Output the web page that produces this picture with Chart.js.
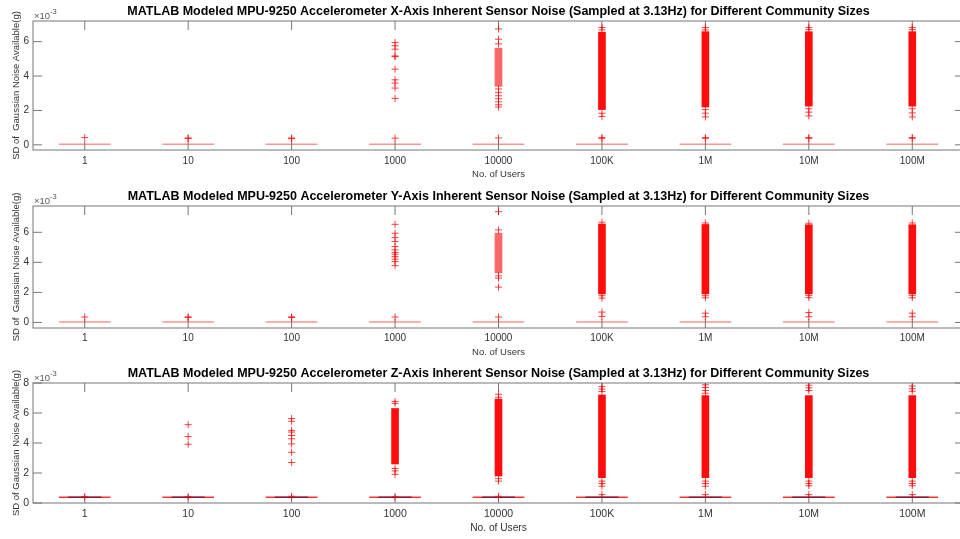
<!DOCTYPE html>
<html>
<head>
<meta charset="utf-8">
<script src="https://cdn.jsdelivr.net/npm/chart.js@4/dist/chart.umd.min.js"></script>
<style>
html,body{margin:0;padding:0;background:#fff;overflow:hidden;width:960px;height:539px}
.panel{position:absolute;left:0}
</style>
</head>
<body>
<div class="panel" style="top:0"><canvas id="cx" width="975" height="180"></canvas></div>
<div class="panel" style="top:185px"><canvas id="cy" width="975" height="173"></canvas></div>
<div class="panel" style="top:362px"><canvas id="cz" width="975" height="172"></canvas></div>
<script>
// all values in units of 1e-3 g (axis shows x10^-3)
const userCounts = ['1','10','100','1000','10000','100K','1M','10M','100M'];

// X axis
const xMedians = [0.03,0.03,0.03,0.03,0.03,0.03,0.03,0.03,0.03];
const xOutliers = [
  [0.42],
  [0.40,0.37],
  [0.40,0.36],
  [5.95,5.76,5.56,5.17,5.13,4.40,3.78,3.59,3.30,2.70,0.39],
  [6.74,6.14,5.87,3.25,3.05,2.85,2.68,2.50,2.33,2.20,0.40],
  [6.82,6.68,1.84,1.65,0.42,0.38],
  [6.82,6.68,2.05,1.84,1.62,0.42,0.38],
  [6.82,6.70,2.10,1.90,1.68,0.42,0.38],
  [6.82,6.70,2.10,1.86,1.62,0.42,0.38]
];
const xBands = [null,null,null,null,[3.4,5.62],[2.05,6.55],[2.2,6.58],[2.25,6.58],[2.25,6.58]];

// Y axis
const yMedians = [0.03,0.03,0.03,0.03,0.03,0.03,0.03,0.03,0.03];
const yOutliers = [
  [0.36],
  [0.37,0.33],
  [0.37,0.33],
  [6.53,5.94,5.65,5.38,5.05,4.83,4.65,4.54,4.38,4.21,4.05,3.78,0.36],
  [7.37,6.16,3.10,2.95,2.35,0.36],
  [6.67,1.78,1.62,0.69,0.40],
  [6.62,1.78,1.64,0.62,0.38],
  [6.60,1.80,1.65,0.66,0.38],
  [6.62,1.80,1.64,0.62,0.38]
];
const yBands = [null,null,null,null,[3.3,5.94],[1.9,6.55],[1.9,6.52],[1.9,6.5],[1.9,6.5]];

// Z axis
const zMedians = [0.38,0.38,0.38,0.38,0.38,0.38,0.38,0.38,0.38];
const zWhiskerEnds = [0.38,0.38,0.38,0.38,0.38,0.38,0.38,0.38,0.38];
const zOutliers = [
  [0.42],
  [5.22,4.43,3.92,0.42],
  [5.63,5.45,4.84,4.73,4.50,4.28,3.94,3.38,2.70,0.45],
  [6.76,6.64,2.30,2.14,1.91,0.42],
  [7.25,7.05,1.62,1.46,0.45],
  [7.77,7.60,7.43,1.46,1.30,1.12,0.56],
  [7.88,7.70,7.50,7.32,1.46,1.30,1.12,0.56],
  [7.85,7.68,7.50,1.46,1.30,1.15,0.56],
  [7.80,7.62,7.45,1.46,1.30,1.15,0.56]
];
const zBands = [null,null,null,[2.6,6.3],[1.8,6.93],[1.69,7.2],[1.69,7.16],[1.69,7.16],[1.69,7.16]];

const yTicksXY = [0,2,4,6];
const yTicksZ = [0,2,4,6,8];

const FONT = '"Liberation Sans", Arial, Helvetica, sans-serif';
const boxHalf = 0.25, capHalf = 0.16;

function segs(vals, half){
  const pts = [];
  vals.forEach((v,i)=>{ pts.push({x:i+1-half,y:v},{x:i+1+half,y:v},{x:i+1+half+0.01,y:null}); });
  return pts;
}
function outlierPts(groups){
  const pts = [];
  groups.forEach((g,i)=>g.forEach(v=>pts.push({x:i+1,y:v})));
  return pts;
}

const matlabAxes = {
  id:'matlabAxes',
  beforeDatasetsDraw(chart){
    const {ctx, chartArea:a, scales:{x,y}} = chart;
    ctx.save();
    ctx.strokeStyle = '#777'; ctx.lineWidth = 1;
    ctx.strokeRect(a.left, a.top, a.right-a.left, a.bottom-a.top);
    ctx.beginPath();
    x.ticks.forEach(t=>{ const p=x.getPixelForValue(t.value);
      ctx.moveTo(p,a.top); ctx.lineTo(p,a.top+9); ctx.moveTo(p,a.bottom); ctx.lineTo(p,a.bottom-9); });
    y.ticks.forEach(t=>{ const p=y.getPixelForValue(t.value);
      ctx.moveTo(a.left,p); ctx.lineTo(a.left+9,p); ctx.moveTo(a.right,p); ctx.lineTo(a.right-9,p); });
    ctx.stroke();
    ctx.fillStyle = '#555'; ctx.textAlign='left'; ctx.textBaseline='middle';
    ctx.font = '9.5px '+FONT;
    ctx.fillText('\u00d710', a.left+1, a.top-4.5);
    const w = ctx.measureText('\u00d710').width;
    ctx.font = '7.5px '+FONT;
    ctx.fillText('-3', a.left+1+w, a.top-9);
    ctx.restore();
  }
};

function makePanel(id, cfg){
  const datasets = [
    { type:'scatter', data: outlierPts(cfg.outliers), pointStyle:'cross', pointRadius:3.5,
      borderColor:'rgba(255,0,0,0.75)', backgroundColor:'rgba(255,0,0,0.75)', borderWidth:1 }
  ];
  if (cfg.caps) datasets.push({ type:'line', data: segs(cfg.caps, capHalf), borderColor:'rgba(110,20,55,0.85)',
      borderWidth:1.5, pointRadius:0, spanGaps:false });
  datasets.push({ type:'line', data: segs(cfg.medians, boxHalf), borderColor:cfg.medianColor,
      borderWidth:1.5, pointRadius:0, spanGaps:false });
  datasets.push({ type:'bar', data: cfg.bands.map((b,i)=>b?{x:i+1,y:b}:null).filter(Boolean),
      barThickness:7, borderWidth:0,
      backgroundColor: c => (c.raw && cfg.lightBands.includes(c.raw.x-1)) ? 'rgba(255,0,0,0.6)' : 'rgba(255,0,0,0.95)' });

  return new Chart(document.getElementById(id), {
    type:'scatter',
    data:{ datasets },
    plugins:[matlabAxes],
    options:{
      responsive:false, animation:false, events:[],
      layout:{ padding:{ left:0, right:11, top:0, bottom:0 } },
      plugins:{
        legend:{display:false}, tooltip:{enabled:false},
        title:{ display:true, text:cfg.title, fullSize:false, color:'#000',
          font:{ family:FONT, size:12.5, weight:'bold', lineHeight:1.2 }, padding:{top:4.5,bottom:1.5} }
      },
      scales:{
        x:{ type:'linear', min:0.5, max:9.5, offset:false,
          afterBuildTicks: s=>{ s.ticks = userCounts.map((_,i)=>({value:i+1})); },
          afterFit: s=>{ s.height = cfg.xHeight; },
          grid:{display:false, drawTicks:false, offset:false}, border:{display:false},
          ticks:{ padding:cfg.tickPad, color:'#333', font:{family:FONT, size:cfg.tickSize}, maxRotation:0,
            callback: v => userCounts[v-1] },
          title:{ display:true, text:'No. of Users', color:'#333',
            font:{family:FONT, size:cfg.xTitleSize, lineHeight:1.2}, padding:{top:0,bottom:0} }
        },
        y:{ type:'linear', min:cfg.ymin, max:cfg.ymax,
          afterBuildTicks: s=>{ s.ticks = cfg.yTicks.map(v=>({value:v})); },
          afterFit: s=>{ s.width = 33; },
          grid:{display:false, drawTicks:false}, border:{display:false},
          ticks:{ padding:4, color:'#333', font:{family:FONT, size:cfg.tickSize}, callback: v => String(v) },
          title:{ display:true, text:cfg.yTitle, color:'#333',
            font:{family:FONT, size:9.5, lineHeight:1.2}, padding:{top:11,bottom:0} }
        }
      }
    }
  });
}

makePanel('cx', {
  title:'MATLAB Modeled MPU-9250 Accelerometer X-Axis Inherent Sensor Noise (Sampled at 3.13Hz) for Different Community Sizes',
  yTitle:'SD of  Gaussian Noise Available(g)', ymin:-0.3, ymax:7.2, yTicks:yTicksXY,
  medians:xMedians, outliers:xOutliers, bands:xBands, lightBands:[4], caps:null,
  medianColor:'rgba(255,40,40,0.5)', xHeight:30, tickPad:5, tickSize:10, xTitleSize:9.5
});
makePanel('cy', {
  title:'MATLAB Modeled MPU-9250 Accelerometer Y-Axis Inherent Sensor Noise (Sampled at 3.13Hz) for Different Community Sizes',
  yTitle:'SD of  Gaussian Noise Available(g)', ymin:-0.37, ymax:7.75, yTicks:yTicksXY,
  medians:yMedians, outliers:yOutliers, bands:yBands, lightBands:[4], caps:null,
  medianColor:'rgba(255,40,40,0.5)', xHeight:30, tickPad:4.5, tickSize:10, xTitleSize:9.5
});
makePanel('cz', {
  title:'MATLAB Modeled MPU-9250 Accelerometer Z-Axis Inherent Sensor Noise (Sampled at 3.13Hz) for Different Community Sizes',
  yTitle:'SD of Gaussian Noise Available(g)', ymin:0, ymax:8, yTicks:yTicksZ,
  medians:zMedians, outliers:zOutliers, bands:zBands, lightBands:[], caps:zWhiskerEnds,
  medianColor:'rgba(255,0,0,0.8)', xHeight:31, tickPad:5, tickSize:10.5, xTitleSize:10.2
});
</script>
</body>
</html>
